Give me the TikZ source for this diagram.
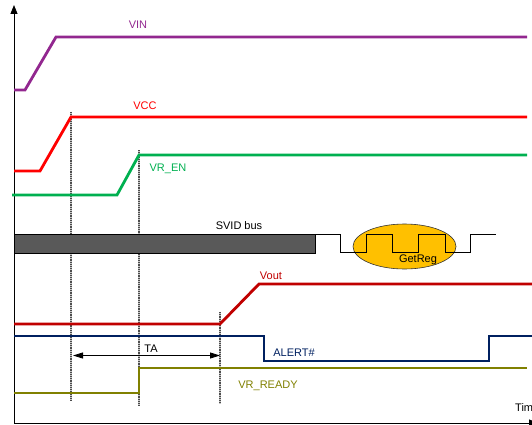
\documentclass[tikz,border=0pt]{standalone}
\usepackage{fontspec}
\setmainfont{Liberation Sans}
\usetikzlibrary{arrows.meta,shapes.geometric}
\definecolor{cvin}{HTML}{92278F}
\definecolor{cvcc}{HTML}{FF0000}
\definecolor{cvren}{HTML}{00B050}
\definecolor{cvout}{HTML}{C00000}
\definecolor{calert}{HTML}{002060}
\definecolor{cready}{HTML}{808000}
\definecolor{cbus}{HTML}{595959}
\definecolor{cget}{HTML}{FFC000}
\tikzset{
  sig/.style={line width=2.8pt, line join=miter},
  markerbg/.style={gray!45, line width=2.2pt},
  marker/.style={black!70, line width=1.2pt, dash pattern=on 1.2pt off 1pt},
  lbl/.style={font=\fontsize{11}{13}\selectfont, inner sep=0pt},
  axis/.style={line width=0.9pt, black},
}
\begin{document}
\begin{tikzpicture}[x=1pt, y=-1pt]
\useasboundingbox (0,0) rectangle (532,425);
% axes
\draw[axis, -{Triangle[length=9pt,width=7pt]}] (14,423) -- (14,5);
\draw[axis, -{Triangle[length=9pt,width=7pt]}] (14,423) -- (538,423);
\node[lbl, anchor=west] (time) at (515,408) {Time};
% marker lines
\foreach \xa/\ya/\yb in {71/112/401, 139/150/406, 220/312/404} {
  \draw[markerbg] (\xa,\ya) -- (\xa,\yb);
  \draw[marker] (\xa,\ya) -- (\xa,\yb);
}
% VIN
\draw[sig, cvin] (14,90) -- (25,90) -- (56,37) -- (527,37);
\node[lbl, text=cvin] (vin) at (138,25) {VIN};
% VCC
\draw[sig, cvcc] (14,171) -- (40,171) -- (71,117) -- (527,117);
\node[lbl, text=cvcc] (vcc) at (145,106) {VCC};
% VR_EN
\draw[sig, cvren] (12,195) -- (117,195) -- (139,155) -- (527,155);
\node[lbl, text=cvren] (vren) at (168,169) {VR\_EN};
% SVID bus
\draw[fill=cbus, line width=1pt] (14,234) rectangle (315,253);
\node[lbl] (svid) at (239,226) {SVID bus};
\node[draw=black!80, fill=cget, ellipse, minimum width=103pt, minimum height=45pt, inner sep=0pt, line width=0.6pt] (getreg) at (404.5,246.5) {};
\draw[line width=1pt, line join=miter] (315,234) -- (340,234) -- (340,252) -- (366,252) -- (366,234) -- (392,234) -- (392,252) -- (418,252) -- (418,234) -- (445,234) -- (445,252) -- (470,252) -- (470,234) -- (496,234);
\node[lbl] (getlbl) at (418,260) {GetReg};
% Vout
\draw[sig, cvout] (14,324) -- (220,324) -- (259,284) -- (532,284);
\node[lbl, text=cvout] (vout) at (271,276) {Vout};
% ALERT#
\draw[sig, calert] (14,336) -- (264,336) -- (264,361) -- (489,361) -- (489,336) -- (532,336);
\node[lbl, text=calert] (alert) at (294,353) {ALERT\#};
% VR_READY
\draw[sig, cready] (14,393) -- (139,393) -- (139,368) -- (527,368);
\node[lbl, text=cready] (ready) at (268,386) {VR\_READY};
% TA
\coordinate (taL) at (73,355.5);
\coordinate (taR) at (220,355.5);
\draw[line width=0.9pt, {Triangle[length=10pt,width=6pt]}-{Triangle[length=10pt,width=6pt]}] (taL) -- (taR);
\node[lbl] (ta) at (151,349) {TA};
\end{tikzpicture}
\end{document}
